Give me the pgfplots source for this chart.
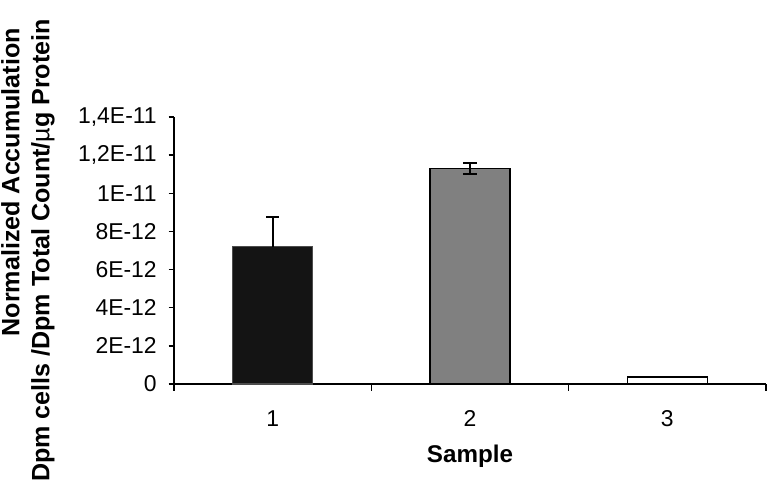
\documentclass[border=0pt]{standalone}
\usepackage{pgfplots}
\pgfplotsset{compat=1.18}
\usepackage{fontspec}
\setmainfont{Liberation Sans}

\definecolor{barone}{RGB}{20,20,20}
\definecolor{bartwo}{RGB}{128,128,128}

\begin{document}
\begin{tikzpicture}
\begin{axis}[
    width=325.6pt, height=146.85pt,
    scale only axis,
    axis lines=left,
    axis line style={line width=0.8pt,-},
    xmin=0.5, xmax=3.5,
    ymin=0, ymax=1.4e-11,
    scaled y ticks=false,
    xtick={1,2,3},
    xticklabels={1,2,3},
    minor xtick={0.5,1.5,2.5,3.5},
    major x tick style={draw=none},
    minor x tick style={line width=0.8pt,black},
    minor tick length=3.6pt,
    ytick={0,2e-12,4e-12,6e-12,8e-12,1e-11,1.2e-11,1.4e-11},
    yticklabels={0,2E-12,4E-12,6E-12,8E-12,1E-11,{1,2E-11},{1,4E-11}},
    y tick style={line width=0.8pt,black},
    major tick length=3pt,
    tick align=outside,
    tick label style={font=\fontsize{12.6}{14}\selectfont},
    xticklabel style={yshift=-8pt},
    yticklabel style={xshift=-3pt},
    xlabel={\textbf{Sample}},
    xlabel style={font=\fontsize{13.3}{15}\selectfont, yshift=-3pt},
    ylabel={\textbf{Normalized Accumulation}\hspace*{5pt}\\\textbf{Dpm cells /Dpm Total Count/}µ\textbf{g Protein}},
    ylabel style={font=\fontsize{13.8}{16.5}\selectfont, align=right, yshift=6pt},
    ybar, bar width=44pt, bar shift=0pt,
    error bars/y explicit,
    error bars/error bar style={line width=1pt,black},
    error bars/error mark options={rotate=90,mark size=3.6pt,line width=1pt,black},
]
\addplot[fill=barone, draw=black!70, line width=0.6pt, error bars/y dir=plus] coordinates {(1,7.2e-12) +- (0,1.55e-12)};
\addplot[fill=bartwo, draw=black, line width=0.9pt, error bars/y dir=both] coordinates {(2,1.13e-11) +- (0,0.27e-12)};
\addplot[fill=white, draw=black, line width=0.9pt] coordinates {(3,0.38e-12)};
\coordinate (sw) at (rel axis cs:0,0);
\coordinate (ne) at (rel axis cs:1,1);
\end{axis}
\pgfresetboundingbox
\path[use as bounding box] ([xshift=-95.7pt,yshift=-58.3pt]sw) rectangle ([xshift=5.5pt,yshift=64.35pt]ne);
\end{tikzpicture}
\end{document}
